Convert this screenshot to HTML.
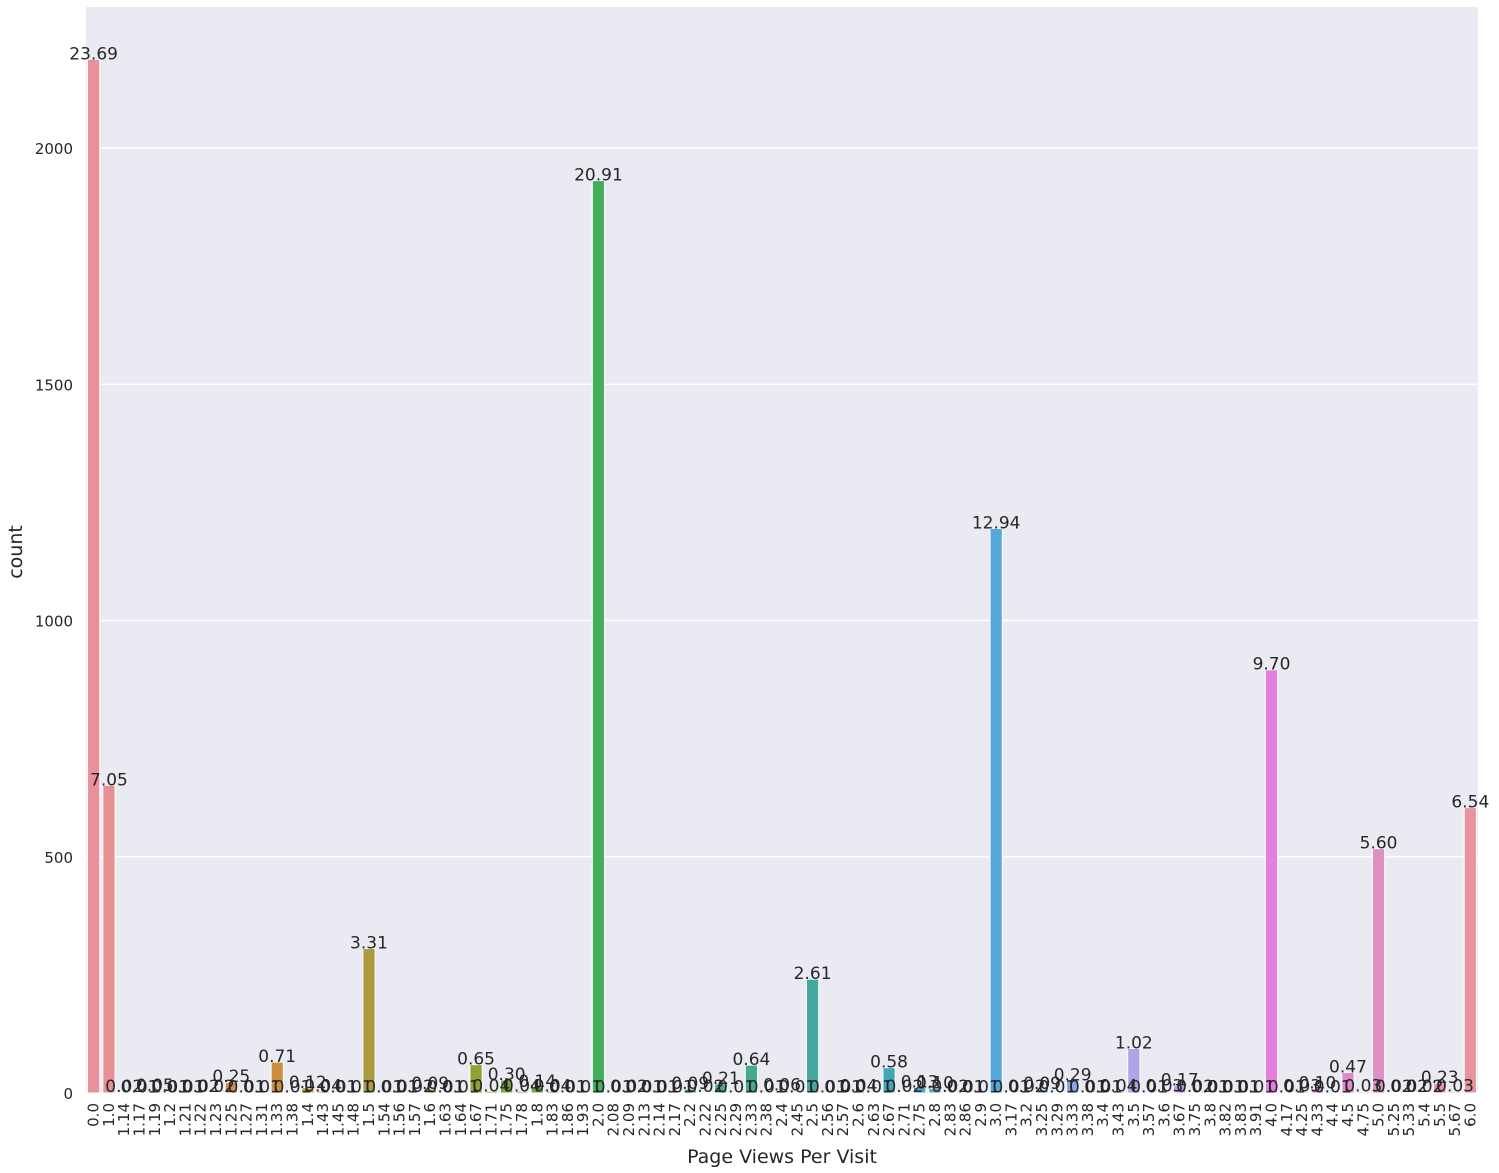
<!DOCTYPE html>
<html><head><meta charset="utf-8"><style>
html,body{margin:0;padding:0;background:#fff;}
svg{display:block;font-family:"DejaVu Sans","Liberation Sans",sans-serif;}
</style></head><body>
<svg id="chart" width="1499" height="1173">
<rect x="86" y="7" width="1392" height="1086" fill="#eaeaf2"/>
<g id="grid"></g><g id="bars"></g><g id="vals"></g><g id="xt"></g><g id="yt"></g>
<text x="782" y="1163" text-anchor="middle" font-size="19" fill="#262626">Page Views Per Visit</text>
<text transform="translate(22,552) rotate(-90)" text-anchor="middle" font-size="19" fill="#262626">count</text>
</svg>
<script>
const categories = ["0.0","1.0","1.14","1.17","1.19","1.2","1.21","1.22","1.23","1.25","1.27","1.31","1.33","1.38","1.4","1.43","1.45","1.48","1.5","1.54","1.56","1.57","1.6","1.63","1.64","1.67","1.71","1.75","1.78","1.8","1.83","1.86","1.93","2.0","2.08","2.09","2.13","2.14","2.17","2.2","2.22","2.25","2.29","2.33","2.38","2.4","2.45","2.5","2.56","2.57","2.6","2.63","2.67","2.71","2.75","2.8","2.83","2.86","2.9","3.0","3.17","3.2","3.25","3.29","3.33","3.38","3.4","3.43","3.5","3.57","3.6","3.67","3.75","3.8","3.82","3.83","3.91","4.0","4.17","4.25","4.33","4.4","4.5","4.75","5.0","5.25","5.33","5.4","5.5","5.67","6.0"];
const percents = [23.69,7.05,0.02,0.01,0.05,0.01,0.01,0.02,0.02,0.25,0.01,0.01,0.71,0.01,0.12,0.04,0.01,0.01,3.31,0.01,0.01,0.02,0.09,0.01,0.01,0.65,0.04,0.30,0.04,0.14,0.04,0.01,0.01,20.91,0.01,0.02,0.01,0.01,0.01,0.09,0.02,0.21,0.01,0.64,0.01,0.06,0.01,2.61,0.01,0.01,0.04,0.01,0.58,0.02,0.13,0.10,0.02,0.01,0.01,12.94,0.01,0.02,0.09,0.01,0.29,0.01,0.01,0.04,1.02,0.01,0.03,0.17,0.02,0.01,0.01,0.01,0.01,9.70,0.01,0.03,0.10,0.01,0.47,0.03,5.60,0.02,0.02,0.02,0.23,0.03,6.54];
const totalCount = 9235;
const yTicks = [0,500,1000,1500,2000];
const NS="http://www.w3.org/2000/svg";
const X0=86, X1=1478, Y0=1093;
const step=(X1-X0)/categories.length;
function xc(i){return X0+(i+0.5)*step;}
function y(v){return Y0 - v*0.4725;}
function mk(t,a,p){const e=document.createElementNS(NS,t);for(const k in a)e.setAttribute(k,a[k]);p.appendChild(e);return e;}
const anchors=[[0,[232,144,156]],[12,[204,143,61]],[18,[173,156,63]],[25,[142,162,53]],[33,[69,174,92]],[47,[69,168,160]],[52,[66,166,184]],[59,[85,168,216]],[68,[176,164,232]],[77,[228,126,224]],[84,[224,143,194]],[90,[232,148,158]]];
function col(i){for(let k=0;k<anchors.length-1;k++){const[a,ca]=anchors[k],[b,cb]=anchors[k+1];if(i>=a&&i<=b){const t=(i-a)/(b-a);return 'rgb('+ca.map((c,j)=>Math.round(c+(cb[j]-c)*t)).join(',')+')';}}return 'rgb(232,148,158)';}
const grid=document.getElementById('grid'),yt=document.getElementById('yt');
yTicks.forEach(v=>{
 const g=mk('line',{x1:X0,x2:X1,y1:y(v),y2:y(v),stroke:'#fff','stroke-width':1.5},grid);
 
 
 const t=mk('text',{x:73,y:y(v)+6,'text-anchor':'end','font-size':15,fill:'#262626'},yt);
 t.textContent=v;
 
 
});
const bars=document.getElementById('bars'),vals=document.getElementById('vals'),xt=document.getElementById('xt');
categories.forEach((c,i)=>{
 const cnt=percents[i]*totalCount/100;
 const w=step*0.8;
 const r=mk('rect',{x:xc(i)-w/2,y:y(cnt),width:w,height:Y0-y(cnt),fill:col(i),stroke:'#fff','stroke-width':1},bars);
 
 
 const t=mk('text',{x:xc(i),y:y(cnt),'text-anchor':'middle','font-size':17,fill:'#262626'},vals);
 t.textContent=percents[i].toFixed(2);
 
 
 const l=mk('text',{transform:'translate('+(xc(i)+5)+',1103) rotate(-90)','text-anchor':'end','font-size':15,fill:'#262626'},xt);
 l.textContent=c;
 
 
});
</script>
</body></html>
